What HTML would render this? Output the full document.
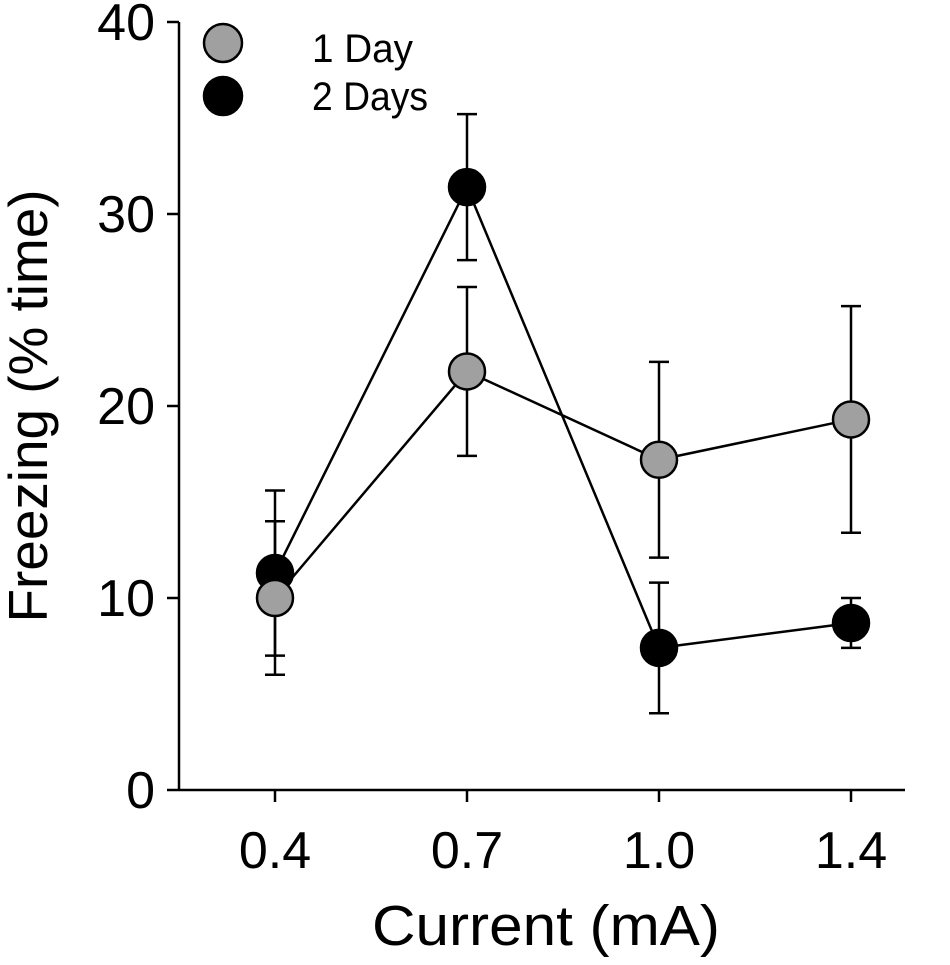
<!DOCTYPE html>
<html><head><meta charset="utf-8"><style>
html,body{margin:0;padding:0;background:#fff;}
svg text{font-family:"Liberation Sans",Arial,sans-serif;fill:#000;}
</style></head><body>
<svg id="chart" width="950" height="960" viewBox="0 0 950 960" xmlns="http://www.w3.org/2000/svg">
<g id="axes"></g>
<g id="series"></g>
<g>
<circle cx="223" cy="43" r="19" fill="#a0a0a0" stroke="#000" stroke-width="2.5"/>
<text x="312" y="62" font-size="40" textLength="101" lengthAdjust="spacingAndGlyphs">1 Day</text>
<circle cx="223" cy="96" r="19" fill="#000" stroke="#000" stroke-width="2.5"/>
<text x="312" y="110" font-size="40" textLength="116" lengthAdjust="spacingAndGlyphs">2 Days</text>
</g>
<text transform="translate(47,406) rotate(-90)" text-anchor="middle" font-size="55" textLength="433" lengthAdjust="spacingAndGlyphs">Freezing (% time)</text>
<text x="546" y="945" text-anchor="middle" font-size="57" textLength="348" lengthAdjust="spacingAndGlyphs">Current (mA)</text>
</svg>
<script>
const categories = ["0.4","0.7","1.0","1.4"];
const yTicks = [0,10,20,30,40];
const oneDay = [10.0,21.8,17.2,19.3];
const oneDayErr = [4.0,4.4,5.1,5.9];
const twoDays = [11.3,31.4,7.4,8.7];
const twoDaysErr = [4.3,3.8,3.4,1.3];

const NS="http://www.w3.org/2000/svg";
const x0=179,yBase=790,yTop=22,xRight=905;
function yScale(v){return yBase-(v/40)*(yBase-yTop);}
function xScale(i){return 275+i*192;}
function mk(tag,attrs,parent){const e=document.createElementNS(NS,tag);for(const k in attrs)e.setAttribute(k,attrs[k]);parent.appendChild(e);return e;}
const axes=document.getElementById('axes');
let e=mk('line',{x1:x0,y1:yTop,x2:x0,y2:yBase,stroke:'#000','stroke-width':2.5},axes);


e=mk('line',{x1:x0,y1:yBase,x2:xRight,y2:yBase,stroke:'#000','stroke-width':2.5},axes);


yTicks.forEach(t=>{
  const y=yScale(t);
  let l=mk('line',{x1:x0-12,y1:y,x2:x0,y2:y,stroke:'#000','stroke-width':2.5},axes);
  
  
  let tx=mk('text',{x:x0-24,y:y+18,'text-anchor':'end','font-size':52},axes);
  tx.textContent=t;
  
  
});
categories.forEach((c,i)=>{
  const x=xScale(i);
  let l=mk('line',{x1:x,y1:yBase,x2:x,y2:yBase+12,stroke:'#000','stroke-width':2.5},axes);
  
  
  let tx=mk('text',{x:x,y:868,'text-anchor':'middle','font-size':52},axes);
  tx.textContent=c;
  
  
});
const sg=document.getElementById('series');
function drawSeries(vals,errs,name){
  const g=mk('g',{},sg);
  
  
  vals.forEach((v,i)=>{
    const x=xScale(i);
    const b=mk('path',{d:`M${x},${yScale(v+errs[i])}V${yScale(v-errs[i])}M${x-10},${yScale(v+errs[i])}H${x+10}M${x-10},${yScale(v-errs[i])}H${x+10}`,stroke:'#000','stroke-width':2.5,fill:'none'},g);
    
    
  });
  const p=mk('polyline',{points:vals.map((v,i)=>xScale(i)+','+yScale(v)).join(' '),fill:'none',stroke:'#000','stroke-width':2.5},g);
  
  
}
drawSeries(oneDay,oneDayErr,'one-day');
drawSeries(twoDays,twoDaysErr,'two-days');
function drawPoints(vals,fill,name){
  vals.forEach((v,i)=>{
    const c=mk('circle',{cx:xScale(i),cy:yScale(v),r:18,fill:fill,stroke:'#000','stroke-width':2.5},sg);
    
    
  });
}
drawPoints(twoDays,'#000','two-days');
drawPoints(oneDay,'#a0a0a0','one-day');
</script>
</body></html>
